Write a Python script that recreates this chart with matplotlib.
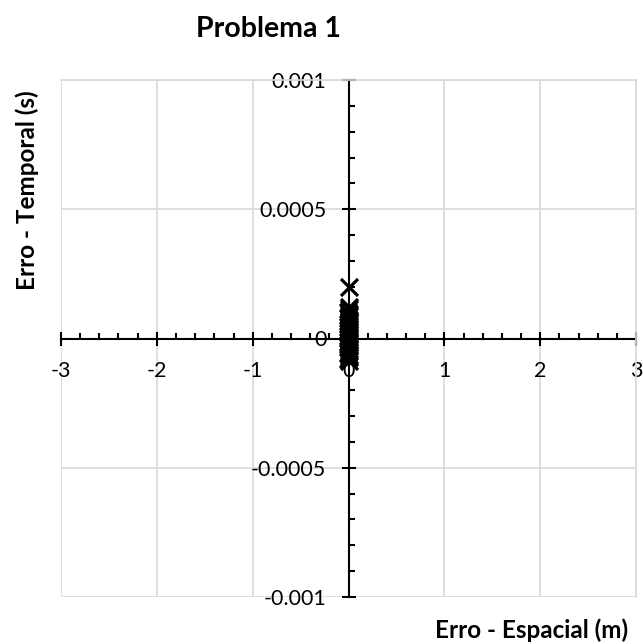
import matplotlib
matplotlib.use("Agg")
import matplotlib.pyplot as plt
from matplotlib.ticker import MultipleLocator, FuncFormatter

plt.rcParams['font.family'] = ['Lato', 'DejaVu Sans']

# erro espacial (m) e erro temporal (s)
erro_espacial = [0.0, 0.0, 0.0001, -0.0001, 0.0, 0.0002, -0.0002, 0.0, 0.0001, -0.0001,
                 0.0, 0.0002, -0.0002, 0.0, 0.0001, -0.0001, 0.0, 0.0002, -0.0002, 0.0,
                 0.0001, -0.0001, 0.0, 0.0002, -0.0002, 0.0, 0.0001, -0.0001, 0.0]
erro_temporal = [0.0002, 0.000122, 0.000115, 0.000104, 0.000096, 0.000088, 0.000079,
                 0.000071, 0.000063, 0.000055, 0.000048, 0.00004, 0.000032, 0.000025,
                 0.000017, 0.00001, 0.000003, -0.000004, -0.000012, -0.000019,
                 -0.000027, -0.000034, -0.000042, -0.00005, -0.000057, -0.000065,
                 -0.000072, -0.00008, -0.000087]

fig = plt.figure(figsize=(6.43, 6.44), dpi=100)
ax = fig.add_axes([61/643, 47/644, 575/643, 517/644])

ax.scatter(erro_espacial, erro_temporal, marker='x', s=150, color='black',
           linewidths=2.3, zorder=3, clip_on=False)

ax.set_xlim(-3, 3)
ax.set_ylim(-0.001, 0.001)
ax.xaxis.set_major_locator(MultipleLocator(1))
ax.xaxis.set_minor_locator(MultipleLocator(0.2))
ax.yaxis.set_major_locator(MultipleLocator(0.0005))
ax.yaxis.set_minor_locator(MultipleLocator(0.0001))
ax.xaxis.set_major_formatter(FuncFormatter(lambda v, p: f"{v:g}"))
ax.yaxis.set_major_formatter(FuncFormatter(lambda v, p: f"{v:g}"))

ax.grid(True, which='major', color='#d9d9d9', linewidth=1.2, zorder=0)
ax.set_axisbelow(True)

# eixos cruzando na origem
ax.spines['left'].set_position(('data', 0))
ax.spines['bottom'].set_position(('data', 0))
for s in ['left', 'bottom']:
    ax.spines[s].set_linewidth(1.5)
    ax.spines[s].set_zorder(2)
for s in ['top', 'right']:
    ax.spines[s].set_color('#d9d9d9')
    ax.spines[s].set_linewidth(1.2)

ax.tick_params(which='major', direction='inout', length=10, width=1.5,
               labelsize=15.5, pad=11)
ax.tick_params(which='minor', direction='in', length=4.5, width=1.5)

fig.text(0.417, 0.955, 'Problema 1', ha='center', va='center',
         fontsize=20.5, fontweight='bold')
fig.text(0.042, 0.705, 'Erro - Temporal (s)', ha='center', va='center',
         rotation=90, fontsize=17.5, fontweight='bold')
fig.text(0.977, 0.022, 'Erro - Espacial (m)', ha='right', va='center',
         fontsize=17.5, fontweight='bold')

fig.savefig('out.png', dpi=100)
